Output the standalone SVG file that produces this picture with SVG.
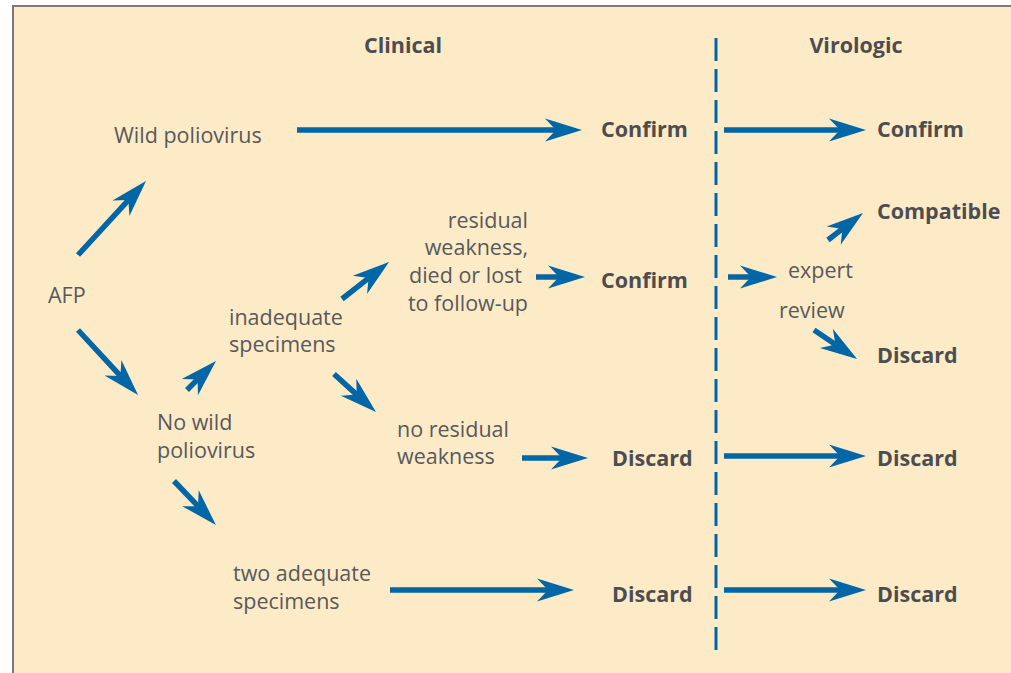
<svg xmlns="http://www.w3.org/2000/svg" width="1011" height="673" viewBox="0 0 1011 673">
<defs>
<style>
.t{font-family:"Open Sans","Noto Sans","Liberation Sans",sans-serif;font-size:21.5px;fill:#58595b}
.b{font-family:"Open Sans","Noto Sans","Liberation Sans",sans-serif;font-size:21.5px;font-weight:bold;fill:#4d4d4f}
.e{text-anchor:end}
.m{text-anchor:middle}
.c line{stroke:#0066a6;stroke-width:5.5;marker-end:url(#ah)}
</style>
<marker id="ah" markerUnits="userSpaceOnUse" orient="auto" overflow="visible" markerWidth="1" markerHeight="1" refX="0" refY="0">
<path d="M-11,-11.5 L26,0 L-11,11.5 L0,0 Z" fill="#0066a6"/>
</marker>
</defs>
<rect x="0" y="0" width="1011" height="673" fill="#ffffff"/>
<rect x="13" y="6" width="1010" height="680" fill="#fdebc8" stroke="#7a7a7a" stroke-width="2"/>
<line x1="716" y1="38" x2="716" y2="655" stroke="#0066a6" stroke-width="3" stroke-dasharray="23 8"/>
<g id="headers">
<text class="b m" x="403" y="53">Clinical</text>
<text class="b m" x="856" y="53">Virologic</text>
</g>
<g id="afp"><text class="t" x="48" y="303">AFP</text></g>
<g id="wild"><text class="t" x="114" y="143">Wild poliovirus</text></g>
<g id="nowild"><text class="t" x="157" y="430">No wild</text><text class="t" x="157" y="458">poliovirus</text></g>
<g id="inadequate"><text class="t" x="229" y="325">inadequate</text><text class="t" x="229" y="352">specimens</text></g>
<g id="residual">
<text class="t e" x="528" y="228">residual</text>
<text class="t e" x="528" y="255">weakness,</text>
<text class="t e" x="522" y="283">died or lost</text>
<text class="t e" x="528" y="311">to follow-up</text>
</g>
<g id="noresidual"><text class="t" x="397" y="437">no residual</text><text class="t" x="397" y="464">weakness</text></g>
<g id="twoadequate"><text class="t" x="233" y="581">two adequate</text><text class="t" x="233" y="609">specimens</text></g>
<g id="confirm1"><text class="b" x="601" y="137">Confirm</text></g>
<g id="confirm2"><text class="b" x="601" y="288">Confirm</text></g>
<g id="discard1"><text class="b" x="612" y="466">Discard</text></g>
<g id="discard2"><text class="b" x="612" y="602">Discard</text></g>
<g id="vconfirm"><text class="b" x="877" y="137">Confirm</text></g>
<g id="expert"><text class="t" x="788" y="278">expert</text><text class="t" x="779" y="318">review</text></g>
<g id="compatible"><text class="b" x="877" y="219">Compatible</text></g>
<g id="vdiscard1"><text class="b" x="877" y="363">Discard</text></g>
<g id="vdiscard2"><text class="b" x="877" y="466">Discard</text></g>
<g id="vdiscard3"><text class="b" x="877" y="602">Discard</text></g>
<g id="connectors" class="c">
<line x1="78" y1="255" x2="128.4" y2="200.1"/>
<line x1="78" y1="330" x2="120.4" y2="375.9"/>
<line x1="297" y1="130" x2="556" y2="130"/>
<line x1="724" y1="130" x2="840" y2="130"/>
<line x1="187" y1="390" x2="197.6" y2="379.4"/>
<line x1="342" y1="299" x2="368.6" y2="278.1"/>
<line x1="334" y1="374" x2="356.7" y2="394.6"/>
<line x1="174" y1="481" x2="198" y2="506.2"/>
<line x1="536" y1="277" x2="559" y2="277"/>
<line x1="728" y1="277" x2="751" y2="277"/>
<line x1="828" y1="240" x2="842.4" y2="228.9"/>
<line x1="814" y1="330" x2="835.5" y2="344.5"/>
<line x1="522" y1="458" x2="562" y2="458"/>
<line x1="724" y1="456" x2="840" y2="456"/>
<line x1="390" y1="590" x2="548" y2="590"/>
<line x1="724" y1="590" x2="840" y2="590"/>
</g>
</svg>
